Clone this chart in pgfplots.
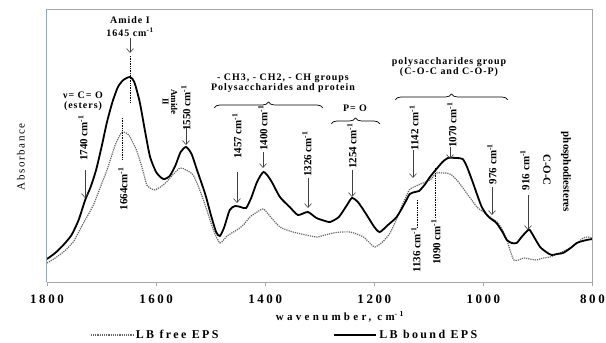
\documentclass[border=0pt]{standalone}
\usepackage{pgfplots}
\pgfplotsset{compat=1.18}
\usepackage{fontspec}
\setmainfont{Liberation Serif}
\newfontfamily\ann[LetterSpace=10]{Liberation Serif}
\newfontfamily\tck[LetterSpace=20]{Liberation Serif}
\newfontfamily\xlab[LetterSpace=30]{Liberation Serif}
\newfontfamily\ylab[LetterSpace=15]{Liberation Serif}
\usetikzlibrary{arrows.meta,decorations.pathreplacing}
\definecolor{axblue}{HTML}{7FA8DC}
\definecolor{framegray}{HTML}{A6A6A6}
\begin{document}
\begin{tikzpicture}
\useasboundingbox (-47bp,-61bp) rectangle (559bp,282bp);
\begin{axis}[
  scale only axis, width=545.5bp, height=273bp,
  x dir=reverse, xmin=800, xmax=1800, ymin=0, ymax=273,
  xtick={800,1000,1200,1400,1600,1800}, ytick=\empty,
  tick pos=bottom, tick align=outside, major tick length=4bp,
  every tick/.style={framegray, line width=0.6bp},
  axis line style={draw=none},
  /pgf/number format/1000 sep={},
  /pgf/number format/assume math mode=true,
  xticklabel style={font=\tck\bfseries\fontsize{13}{13}\selectfont, yshift=-5bp},
  xlabel={\xlab\bfseries wavenumber, cm\textsuperscript{-1}},
  x label style={at={(axis description cs:0.537,-0.128)}, anchor=center, font=\fontsize{11}{11}\selectfont},
  ylabel={\ylab Absorbance},
  y label style={at={(axis description cs:-0.0477,0.458)}, anchor=center, rotate=0, font=\fontsize{11}{11}\selectfont},
  legend columns=2,
  legend style={at={(axis description cs:0.0788,-0.194)}, anchor=west, draw=none, fill=none, inner sep=0pt,
    font=\tck\bfseries\fontsize{12}{12}\selectfont, nodes={inner sep=2.5bp},
    /tikz/every even column/.append style={column sep=112bp}},
  legend cell align=left,
  legend image code/.code={\draw[#1] (0bp,0bp) -- (42bp,0bp);},
]
% LB free EPS (dotted)
\addplot[gray!80!black, line width=1.2bp, densely dotted, smooth, tension=0.4] coordinates {
(1800,19)(1785,24)(1770,30)(1752,40)(1735,57)(1715,77)(1700,98)(1690,112)(1675,137)(1665,148)
(1660,150)(1650,147)(1636,132)(1625,113)(1617,97)(1608,93)(1602,92)(1592,95)(1581,100)(1568,108)
(1556,114)(1545,112)(1532,107)(1520,92)(1507,72)(1495,52)(1483,39)(1470,46)(1452,52)(1440,57)
(1428,65)(1415,70)(1403,73)(1390,65)(1373,55)(1355,51)(1342,49)(1325,47)(1306,45)(1290,47)
(1275,49)(1260,50)(1245,50)(1232,48)(1220,45)(1210,40)(1199,35)(1185,40)(1171,49)(1160,62)
(1147,79)(1136,92)(1128,95)(1115,98)(1098,102)(1086,109)(1075,109)(1067,109)(1058,107)(1049,102)
(1040,96)(1031,89)(1020,81)(1012,75)(1000,70)(988,65)(980,62)(973,59)(965,52)(957,42)
(950,30)(944,22)(935,22)(927,24)(915,23)(903,22)(890,24)(878,25)(865,28)(848,32)
(830,38)(817,44)(808,45)(800,44)
};
\addlegendentry{LB free EPS}
% LB bound EPS (solid)
\addplot[black, line width=1.8bp, smooth, tension=0.4] coordinates {
(1800,23)(1785,29)(1770,37)(1755,47)(1742,62)(1730,82)(1720,95)(1710,112)(1700,135)(1690,160)
(1680,180)(1670,195)(1660,202)(1648,205)(1640,200)(1630,180)(1620,150)(1611,125)(1600,110)(1590,104)
(1584,103)(1575,106)(1565,116)(1555,130)(1545,135)(1535,128)(1525,112)(1510,88)(1500,68)(1490,50)
(1483,46)(1475,55)(1465,72)(1455,76)(1445,75)(1435,74)(1425,85)(1415,100)(1403,110)(1390,102)
(1373,85)(1355,75)(1340,67)(1322,70)(1306,64)(1290,61)(1281,60)(1265,65)(1250,77)(1241,84)
(1230,80)(1215,68)(1200,55)(1190,50)(1175,57)(1159,65)(1145,78)(1135,88)(1125,90)(1118,91)
(1108,97)(1098,105)(1086,113)(1075,120)(1065,124)(1050,124)(1038,123)(1030,115)(1019,99)(1010,85)
(1003,75)(995,68)(988,64)(976,59)(965,50)(957,42)(948,39)(939,39)(930,45)(920,51)
(915,52)(905,43)(896,35)(885,30)(875,27)(865,28)(854,29)(840,34)(829,39)(818,41)
(811,42)(800,43)
};
\addlegendentry{LB bound EPS}
\end{axis}
\begin{scope}[x=1bp,y=-1bp,shift={(-47bp,282bp)},
  lab/.style={font=\bfseries\fontsize{11}{11}\selectfont, inner sep=0pt},
  hlab/.style={font=\ann\bfseries\fontsize{10}{10.5}\selectfont, inner sep=0pt, align=center},
  arr/.style={-{Straight Barb[length=4bp,width=7bp]}, line width=0.6bp, black!75},
  dl/.style={densely dotted, line width=0.7bp},
  br/.style={decorate, decoration={brace, amplitude=6bp}, line width=0.7bp}]
% frame
\draw[framegray, line width=0.7bp] (47,9) -- (592.5,9) -- (592.5,282) -- (47,282);
\draw[axblue, line width=1bp] (47,9) -- (47,282);
% Amide I
\node[hlab] at (130,20) {Amide I};
\node[hlab] at (130,32) {1645 cm\textsuperscript{-1}};
\draw[arr] (130,38) -- (130,53);
\draw[dl] (130,56) -- (130,103);
% esters
\node[hlab] at (83,95) {ν= C= O};
\node[hlab] at (83,106) {(esters)};
\node[lab, rotate=90] at (83,138) {1740 cm\textsuperscript{-1}};
\draw[arr] (85,170) -- (85,198);
% 1664
\draw[dl] (122,118) -- (122,160);
\node[lab, rotate=90] at (123,189) {1664cm\textsuperscript{-1}};
% Amide II
\node[lab, rotate=-90, align=center, font=\bfseries\fontsize{9}{8.5}\selectfont] at (170,102) {Amide\\II};
\node[lab, rotate=90] at (186,108) {1550 cm\textsuperscript{-1}};
\draw[arr] (186,128) -- (186,145);
% CH groups
\node[hlab] at (283,78) {- CH3, - CH2, - CH groups};
\node[hlab] at (283,88) {Polysaccharides and protein};
\draw[br] (214,108) -- (323,108);
\node[lab, rotate=90] at (237,136) {1457 cm\textsuperscript{-1}};
\draw[arr] (237,172) -- (237,203);
\node[lab, rotate=90] at (263,128) {1400 cm\textsuperscript{-1}};
\draw[arr] (263,152) -- (263,168);
\node[lab, rotate=90] at (307,154) {1326 cm\textsuperscript{-1}};
\draw[arr] (308,178) -- (308,208);
% P=O
\node[hlab] at (355,108) {P= O};
\draw[br] (331,124) -- (380,124);
\node[lab, rotate=90] at (352,146) {1254 cm\textsuperscript{-1}};
\draw[arr] (352,170) -- (352,197);
% polysaccharides group
\node[hlab] at (449,62) {polysaccharides group};
\node[hlab] at (449,72) {(C-O-C and C-O-P)};
\draw[br] (395,100) -- (508,100);
\node[lab, rotate=90] at (414,128) {1142 cm\textsuperscript{-1}};
\draw[arr] (413,150) -- (413,178);
\node[lab, rotate=90] at (452,125) {1070 cm\textsuperscript{-1}};
\draw[arr] (450,147) -- (450,159);
\node[lab, rotate=90] at (492,164) {976 cm\textsuperscript{-1}};
\draw[arr] (492,187) -- (492,215);
\node[lab, rotate=90] at (525,170) {916 cm\textsuperscript{-1}};
\draw[arr] (528,195) -- (528,230);
\node[lab, rotate=-90] at (547,170) {C-O-C};
\node[lab, rotate=-90] at (566,172) {phosphodiesteres};
% 1136 / 1090
\draw[dl] (417,200) -- (417,228);
\node[lab, rotate=90] at (416,250) {1136 cm\textsuperscript{-1}};
\draw[dl] (435,168) -- (435,218);
\node[lab, rotate=90] at (436,242) {1090 cm\textsuperscript{-1}};
\end{scope}
\end{tikzpicture}
\end{document}
